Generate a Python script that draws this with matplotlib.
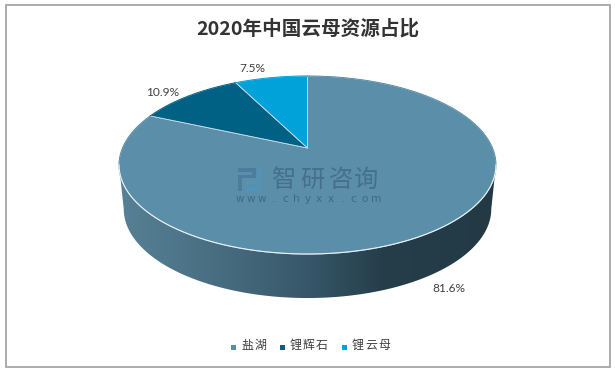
import numpy as np
import matplotlib
matplotlib.use('Agg')
import matplotlib.pyplot as plt
from matplotlib.patches import Polygon, Rectangle
from matplotlib.colors import LinearSegmentedColormap

plt.rcParams['font.family'] = ['Noto Sans CJK SC', 'DejaVu Sans']

title = '2020年中国云母资源占比'
categories = ['盐湖', '锂辉石', '锂云母']
shares = [81.6, 10.9, 7.5]
labels = ['81.6%', '10.9%', '7.5%']
colors = ['#5b8ea8', '#006184', '#00a2da']

W, H = 615, 373
CX = 307.5
APEX_Y = 148.0
A, B, P = 185.0, 57.5, 0.191   # perspective of the disc
DEPTH = 44.0
BOTTOM_SHRINK = 0.975


def rim(theta):
    # theta clockwise from 12 o'clock, in the plane of the pie
    u, v = np.sin(theta), np.cos(theta)
    d = 1 + P * v
    return CX + A * u / d, (APEX_Y - B * v) / d


fig = plt.figure(figsize=(W / 100, H / 100), dpi=100)
ax = fig.add_axes([0, 0, 1, 1])

# outer frame
ax.add_patch(Rectangle((5.5, 4.5), 604.5, 362.5, fc='white', ec='#a6a6a6', lw=1.3))

# side wall, gradient clipped to the extruded shape
t0 = np.arccos(-P)
front = np.linspace(t0, 2 * np.pi - t0, 400)
fx, fy = rim(front)
bx = CX + (fx - CX) * BOTTOM_SHRINK
by = fy + DEPTH
wall = np.column_stack([np.r_[fx, bx[::-1]], np.r_[fy, by[::-1]]])
wall_cmap = LinearSegmentedColormap.from_list(
    'wall', [(0, '#578196'), (0.3, '#466a7d'), (0.5, '#37576a'), (0.7, '#253e4a'), (1, '#233a45')])
im = ax.imshow(np.linspace(0, 1, 256)[None, :], extent=[119, 496, 300, 120],
               cmap=wall_cmap, aspect='auto', zorder=2)
wall_patch = Polygon(wall, closed=True, fc='none', ec='none', zorder=2)
ax.add_patch(wall_patch)
im.set_clip_path(wall_patch)

ax.set_xlim(0, W)
ax.set_ylim(H, 0)
ax.axis('off')

# top faces
start = 0.0
for share, color in zip(shares, colors):
    end = start + share / sum(shares) * 2 * np.pi
    tt = np.linspace(start, end, 300)
    rx, ry = rim(tt)
    ax.add_patch(Polygon(np.column_stack([np.r_[CX, rx], np.r_[APEX_Y, ry]]), closed=True,
                         fc=color, ec='#cfdfe7', lw=0.6, joinstyle='round', zorder=3))
    ax.plot(rx, ry, color=color, lw=0.7, zorder=3.2)
    start = end

# light edge where the top meets the wall
ax.plot(fx, fy, color='#eef4f7', lw=0.8, zorder=3.3)

# watermark
wm = '#45708a'
logo_dark = '#4c7c9e'
logo_light = '#5293b8'
ax.add_patch(Rectangle((238, 168), 18, 4, fc=logo_dark, zorder=4))
ax.add_patch(Rectangle((252, 168), 4, 10, fc=logo_dark, zorder=4))
ax.add_patch(Rectangle((238, 175), 14, 3, fc=logo_dark, zorder=4))
ax.add_patch(Rectangle((238, 178), 4, 13, fc=logo_dark, zorder=4))
ax.add_patch(Rectangle((258, 168), 3, 19, fc=logo_light, zorder=4))
ax.add_patch(Rectangle((245, 181), 13, 3, fc=logo_light, zorder=4))
ax.add_patch(Rectangle((245, 187), 16, 4, fc=logo_light, zorder=4))
for ch, xc in zip('智研咨询', [284.5, 312, 340.5, 366]):
    ax.text(xc, 180, ch, fontsize=17.5, color=wm, ha='center', va='center', zorder=4)
for i, ch in enumerate('www.chyxx.com'):
    ax.text(239.5 + i * 11.4, 199, ch, fontsize=7.6, color='#3f6a84', ha='center', va='center',
            family='DejaVu Sans', zorder=4)

# title
ax.text(307.5, 28.5, title, fontsize=14.1, fontweight='bold', color='#333333',
        ha='center', va='center', zorder=5)

# data labels
label_pos = [(449, 288), (162.5, 92.5), (252, 68)]
for lab, (lx, ly) in zip(labels, label_pos):
    ax.text(lx, ly, lab, fontsize=8.6, color='#404040', ha='center', va='center',
            family='Lato', zorder=5)

# legend, spaced out characters
leg_box = [233.5, 282, 344.5]
leg_txt = [241, 289.5, 352]
for cat, color, bx0, tx0 in zip(categories, colors, leg_box, leg_txt):
    ax.add_patch(Rectangle((bx0 - 2.5, 345), 5, 4.5, fc=color, ec='none', zorder=5))
    for i, ch in enumerate(cat):
        ax.text(tx0 + i * 13.2, 345, ch, fontsize=8.6, color='#404040', ha='left', va='center', zorder=5)

fig.savefig('out.png', dpi=100)
